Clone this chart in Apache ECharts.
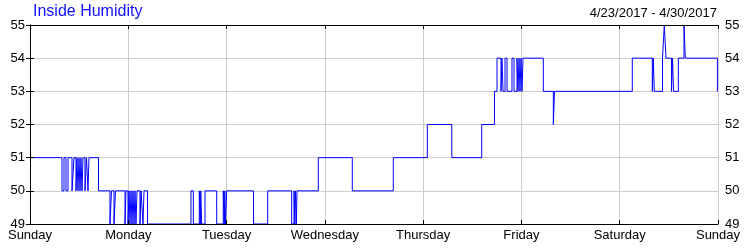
<!DOCTYPE html>
<html><head><meta charset="utf-8">
<script src="https://cdn.jsdelivr.net/npm/echarts@6/dist/echarts.min.js"></script>
<style>html,body{margin:0;padding:0;background:#fff}#c{width:750px;height:250px}</style>
</head><body><div id="c"></div>
<script>
var titleText = "Inside Humidity";
var dateRange = "4/23/2017 - 4/30/2017";
var dayLabels = ["Sunday","Monday","Tuesday","Wednesday","Thursday","Friday","Saturday","Sunday"];
var yTicks = [49,50,51,52,53,54,55];
// hours since Sunday 00:00, step value held until next point
var hours = [0,7.81,8.30,8.79,9.28,10.26,10.74,11.23,11.48,11.72,11.97,12.21,12.45,12.70,12.94,13.43,13.80,14.16,14.41,16.73,
 19.53,19.90,20.51,20.88,23.20,23.44,23.93,24.18,24.42,24.66,24.91,25.15,25.40,25.64,25.88,26.13,26.86,27.11,27.59,27.84,28.69,
 39.31,39.88,41.34,41.58,41.70,41.92,42.73,45.59,47.20,47.45,47.57,47.74,48.03,54.58,58.04,63.90,64.47,64.66,64.83,65.03,65.20,
 70.40,78.70,88.71,97.02,103.00,110.30,113.42,114.04,115.01,115.25,115.50,115.99,116.48,117.70,118.19,118.92,119.16,119.41,119.65,119.90,120.14,120.39,
 125.34,127.79,128.08,147.07,151.96,152.20,152.45,154.45,154.89,155.30,156.64,156.89,157.14,158.31,159.70,160.02,167.85,168];
var humidity = [51,50,51,50,51,50,51,50,51,50,51,50,51,50,51,50,51,50,51,50,
 49,50,49,50,49,50,49,50,49,50,49,50,49,50,49,50,49,50,49,50,49,
 50,49,50,49,50,49,50,49,50,49,50,49,50,49,50,49,50,49,50,49,50,
 51,50,51,52,51,52,53,54,53,54,53,54,53,54,53,54,53,54,53,54,53,54,
 53,52,53,54,53,54,53,54,55,54,53,54,53,54,55,54,53,53];

var data = hours.map(function(h,i){return [h, humidity[i]];});
var chart = echarts.init(document.getElementById('c'), null, {renderer:'canvas'});
var font = 'Liberation Sans, Arial, sans-serif';
var frame = {
  axisLine:{show:true,lineStyle:{color:'#000',width:1}},
  axisTick:{show:true,inside:true,length:4,lineStyle:{color:'#000'}},
  axisLabel:{show:false}, splitLine:{show:false}, z:10
};
function mk(base, extra){ return Object.assign({}, base, extra); }
chart.setOption({
  animation:false,
  textStyle:{fontFamily:font},
  title:[
    {text:titleText,left:33,top:4,padding:0,textStyle:{color:'#1010ff',fontSize:16,fontWeight:'normal',fontFamily:font}},
    {text:dateRange,right:33,top:7,padding:0,textStyle:{color:'#000',fontSize:13,fontWeight:'normal',fontFamily:font}}
  ],
  grid:{left:30,right:32,top:25,bottom:26,containLabel:false},
  xAxis:[
    {type:'value',min:0,max:168,interval:24,position:'bottom',z:0,
      axisLine:{show:false},axisTick:{show:false},
      axisLabel:{color:'#000',fontSize:13,fontFamily:font,margin:5,formatter:function(v){return dayLabels[Math.round(v/24)];}},
      splitLine:{show:true,lineStyle:{color:'#cccccc',width:1}}},
    mk(frame,{type:'value',min:0,max:168,interval:24,position:'top'}),
    mk(frame,{type:'value',min:0,max:168,interval:24,position:'bottom'})
  ],
  yAxis:[
    {type:'value',min:49,max:55,interval:1,position:'left',z:0,
      axisLine:{show:false},axisTick:{show:false},
      axisLabel:{color:'#000',fontSize:13,fontFamily:font,margin:5,formatter:function(v){return yTicks.indexOf(v)>=0?String(v):'';}},
      splitLine:{show:true,lineStyle:{color:'#cccccc',width:1}}},
    mk(frame,{type:'value',min:49,max:55,interval:1,position:'right',
      axisLabel:{show:true,color:'#000',fontSize:13,fontFamily:font,margin:7}}),
    mk(frame,{type:'value',min:49,max:55,interval:1,position:'left'})
  ],
  series:[{type:'line',step:'end',data:data,showSymbol:false,symbol:'none',
    lineStyle:{color:'#0000ff',width:1},z:2}]
});
</script></body></html>
